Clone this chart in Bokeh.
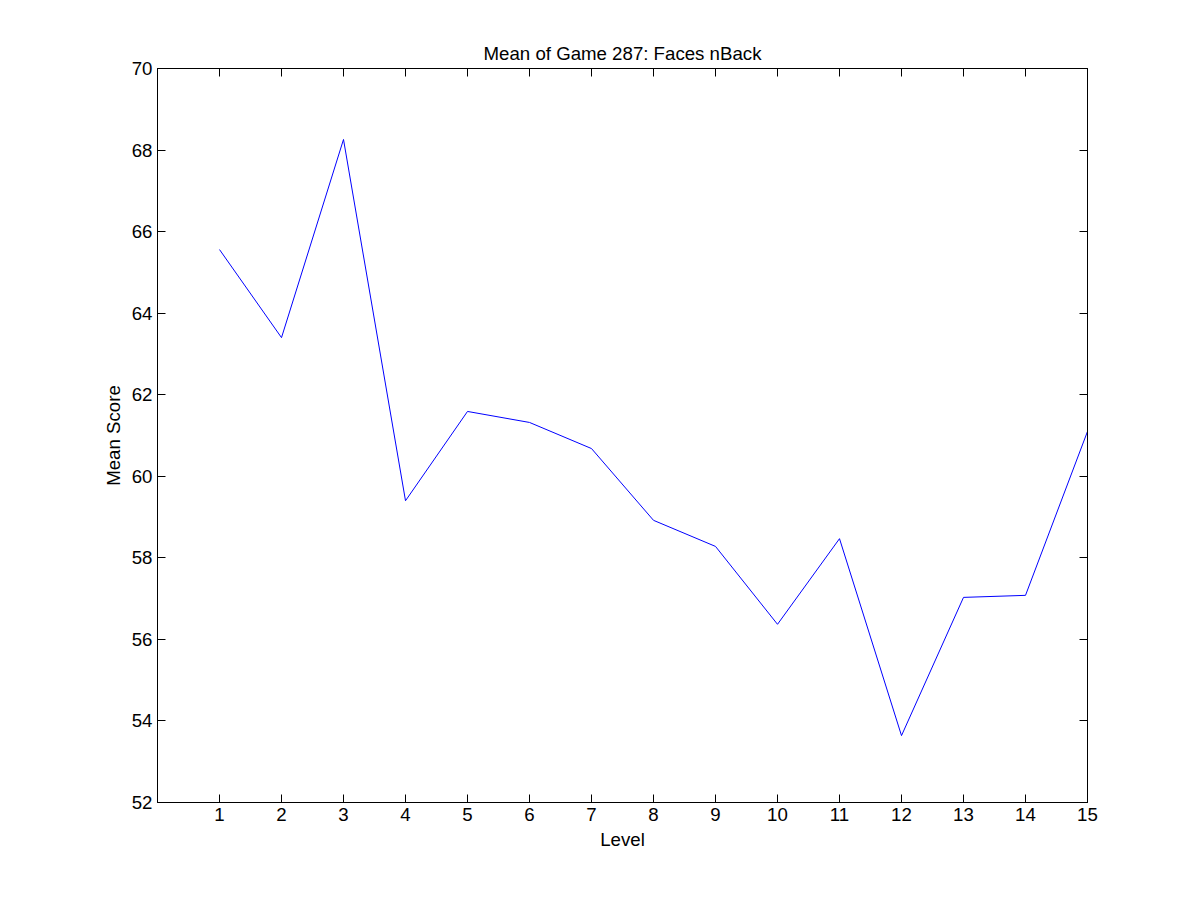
from bokeh.plotting import figure
from bokeh.models import LinearAxis, Range1d
from bokeh.embed import file_html
from bokeh.resources import INLINE

levels = list(range(1, 16))
mean_score = [65.56, 63.4, 68.26, 59.4, 61.59, 61.32, 60.68, 58.92, 58.28,
              56.37, 58.47, 53.64, 57.03, 57.08, 61.1]
x_ticks = list(range(1, 16))
y_ticks = list(range(52, 71, 2))

p = figure(width=1185, height=885, output_backend="svg", toolbar_location=None,
           x_range=Range1d(0, 15), y_range=Range1d(52, 70),
           min_border_left=157, min_border_right=98, min_border_top=68, min_border_bottom=83)
p.title.text = "Mean of Game 287: Faces nBack"
p.title.align = "center"
p.title.text_font = "Liberation Sans"
p.title.text_font_style = "normal"
p.title.text_font_size = "14pt"
p.title.text_color = "black"
p.title.standoff = 10
p.grid.visible = False
p.outline_line_color = "black"
p.background_fill_color = "white"

p.line(levels, mean_score, color="blue", line_width=1)

p.xaxis.ticker = x_ticks
p.yaxis.ticker = y_ticks
p.xaxis.axis_label = "Level"
p.yaxis.axis_label = "Mean Score"
top_ax = LinearAxis(ticker=x_ticks, major_label_overrides={t: "" for t in x_ticks})
right_ax = LinearAxis(ticker=y_ticks, major_label_overrides={t: "" for t in y_ticks})
p.add_layout(top_ax, "above")
p.add_layout(right_ax, "right")
for ax in p.axis:
    ax.major_tick_in = 8
    ax.major_tick_out = 0
    ax.minor_tick_line_color = None
    ax.axis_line_color = "black"
    ax.major_tick_line_color = "black"
    ax.major_label_text_color = "black"
    ax.major_label_text_font = "Liberation Sans"
    ax.major_label_text_font_size = "14pt"
    ax.axis_label_text_font = "Liberation Sans"
    ax.axis_label_text_font_size = "14pt"
    ax.axis_label_text_font_style = "normal"
    ax.axis_label_text_color = "black"
top_ax.major_label_text_font_size = "1px"
right_ax.major_label_text_font_size = "1px"

open("out.html", "w").write(file_html(p, INLINE))
